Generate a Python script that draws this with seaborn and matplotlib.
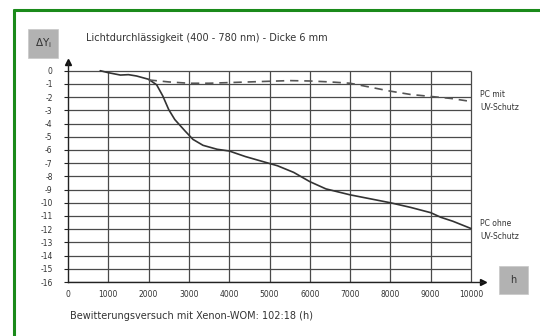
import matplotlib
matplotlib.use("Agg")
import matplotlib.pyplot as plt
import matplotlib.patches as mpatches
import seaborn as sns
import pandas as pd
import numpy as np

# ---- data ----
hours_ohne = [800, 1000, 1300, 1500, 1700, 2000, 2200, 2350, 2500, 2650, 2900, 3100,
              3350, 3700, 4000, 4400, 4800, 5200, 5600, 6000, 6400, 7000, 7500, 8000,
              8500, 9000, 9250, 9550, 10000]
dy_ohne = [0, -0.15, -0.33, -0.3, -0.4, -0.65, -1.07, -1.9, -2.95, -3.7, -4.55, -5.2,
           -5.65, -5.95, -6.08, -6.5, -6.85, -7.2, -7.7, -8.4, -8.95, -9.4, -9.7, -10.0,
           -10.35, -10.75, -11.1, -11.4, -11.95]

hours_mit = [2000, 2500, 3000, 3500, 4000, 4500, 5000, 5500, 6000, 6500, 7000, 7500,
             8000, 8500, 9000, 9500, 10000]
dy_mit = [-0.7, -0.85, -0.95, -0.95, -0.9, -0.85, -0.8, -0.75, -0.78, -0.85, -0.95,
          -1.25, -1.55, -1.8, -1.95, -2.1, -2.33]

x_ticks = [0, 1000, 2000, 3000, 4000, 5000, 6000, 7000, 8000, 9000, 10000]
y_ticks = list(range(0, -17, -1))

title = "Lichtdurchlässigkeit (400 - 780 nm) - Dicke 6 mm"
footer = "Bewitterungsversuch mit Xenon-WOM: 102:18 (h)"
label_mit = "PC mit\nUV-Schutz"
label_ohne = "PC ohne\nUV-Schutz"

sns.set_style("white")
plt.rcParams['font.family'] = ['DejaVu Sans']

W, H = 540, 336
fig = plt.figure(figsize=(W / 100, H / 100), dpi=100)
fig.patch.set_facecolor("white")

def fx(px):
    return px / W

def fy(py):
    return 1 - py / H

# axes placement
x0_px, xarrow_px, x10k_px = 68, 483, 471
y0_px, ybot_px, yarrow_px = 70.7, 282, 62
ax = fig.add_axes([fx(x0_px), fy(ybot_px), fx(xarrow_px - x0_px), (ybot_px - yarrow_px) / H])
xmax = 10000 * (xarrow_px - x0_px) / (x10k_px - x0_px)
ymax = 16 * (ybot_px - yarrow_px) / (ybot_px - y0_px) - 16
ax.set_xlim(0, xmax)
ax.set_ylim(-16, ymax)
ax.set_facecolor("white")

gridc = "#4a4a4a"
ax.hlines(y_ticks, 0, x_ticks[-1], colors=gridc, lw=0.9, zorder=1)
ax.vlines(x_ticks[1:], -16, 0, colors=gridc, lw=0.9, zorder=1)

df_ohne = pd.DataFrame({"h": hours_ohne, "dy": dy_ohne})
df_mit = pd.DataFrame({"h": hours_mit, "dy": dy_mit})
sns.lineplot(data=df_ohne, x="h", y="dy", ax=ax, color="#333333", lw=1.2, zorder=3)
sns.lineplot(data=df_mit, x="h", y="dy", ax=ax, color="#555555", lw=1.2,
             dashes=False, zorder=3)
ax.lines[-1].set_dashes([5, 3.5])

for s in ["top", "right"]:
    ax.spines[s].set_visible(False)
for s in ["left", "bottom"]:
    ax.spines[s].set_color("#222222")
    ax.spines[s].set_linewidth(1.0)

# arrows
ax.plot([0], [1], marker="^", color="#111111", ms=5, transform=ax.transAxes, clip_on=False)
ax.plot([1], [0], marker=">", color="#111111", ms=5, transform=ax.transAxes, clip_on=False)

ax.set_xticks(x_ticks)
ax.set_xticklabels([str(t) for t in x_ticks])
ax.set_yticks(y_ticks)
ax.set_yticklabels([str(t) for t in y_ticks])
ax.tick_params(axis="y", length=3, width=0.8, color="#222222", pad=8, labelsize=5.5,
               labelcolor="#333333", direction="out", left=True)
ax.tick_params(axis="x", length=0, pad=6, labelsize=5.5, labelcolor="#333333")
ax.set_xlabel("")
ax.set_ylabel("")

txtc = "#333333"
fig.text(fx(86), fy(38), title, fontsize=7, color=txtc, va="center", ha="left")
fig.text(fx(70), fy(316), footer, fontsize=7, color=txtc, va="center", ha="left")
fig.text(fx(480), fy(101), label_mit, fontsize=5.5, color=txtc, va="center", ha="left",
         linespacing=1.6)
fig.text(fx(480), fy(230), label_ohne, fontsize=5.5, color=txtc, va="center", ha="left",
         linespacing=1.6)

# gray boxes
boxc = "#b2b2b2"
fig.patches.append(mpatches.Rectangle((fx(28), fy(58)), fx(30), (58 - 29) / H,
                                      transform=fig.transFigure, facecolor=boxc,
                                      edgecolor="#c8c8c8", lw=0.5, zorder=0))
fig.text(fx(43), fy(43.5), "ΔY$_\\mathregular{i}$", fontsize=7.5, color="#333333",
         ha="center", va="center")
fig.patches.append(mpatches.Rectangle((fx(499), fy(294)), fx(29), (294 - 266) / H,
                                      transform=fig.transFigure, facecolor=boxc,
                                      edgecolor="#c8c8c8", lw=0.5, zorder=0))
fig.text(fx(513.5), fy(280), "h", fontsize=7, color="#333333", ha="center", va="center")

# green frame (left and top)
green = "#1a8a1a"
fig.lines.append(plt.Line2D([fx(14), fx(14)], [0, fy(10)], transform=fig.transFigure,
                            color=green, lw=2.2))
fig.lines.append(plt.Line2D([fx(14), 1], [fy(10), fy(10)], transform=fig.transFigure,
                            color=green, lw=2.2))

fig.savefig("out.png", dpi=100, facecolor="white")
